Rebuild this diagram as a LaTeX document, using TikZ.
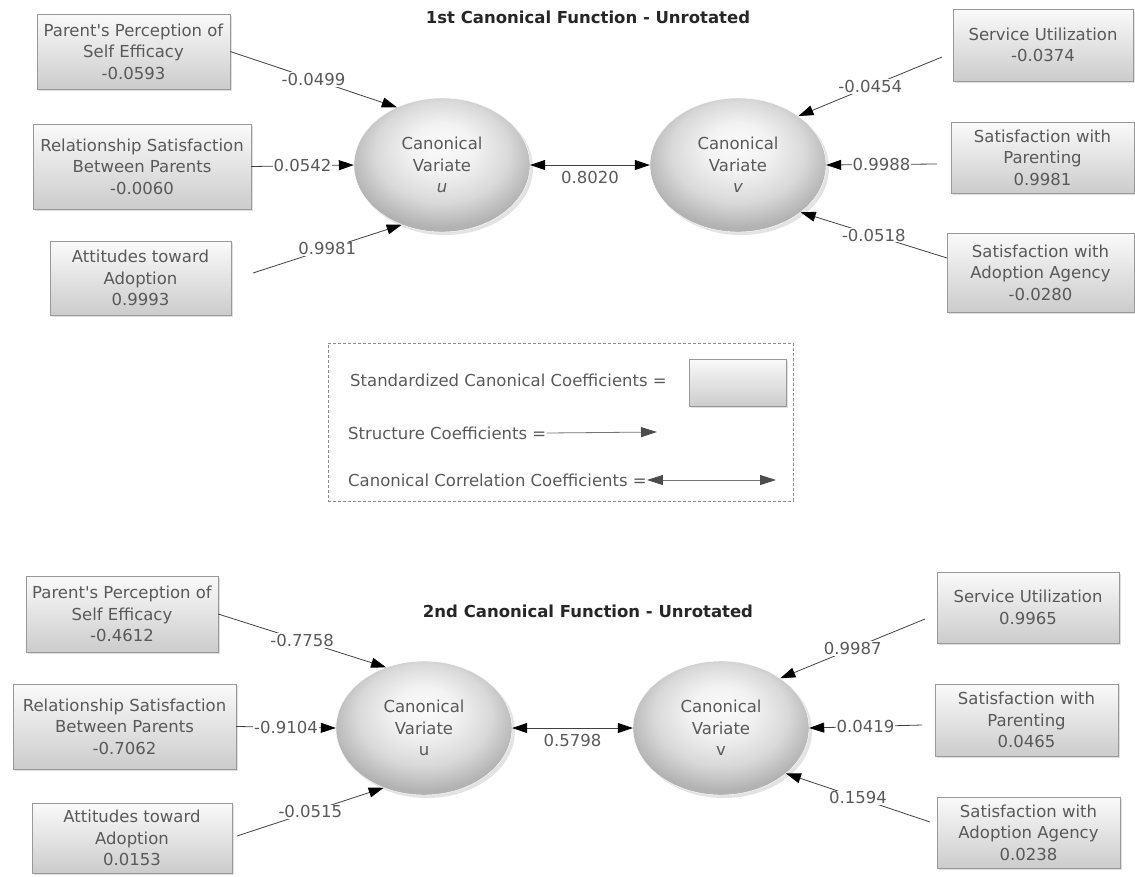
\documentclass[tikz,border=0pt]{standalone}
\usepackage{fontspec}
\setmainfont{DejaVu Sans}
\usetikzlibrary{arrows.meta,shapes.geometric,shadows}
\pgfdeclareradialshading{varshade}{\pgfpoint{0bp}{8bp}}{color(0bp)=(black!2); color(9bp)=(black!5); color(19bp)=(black!15); color(27bp)=(black!30); color(50bp)=(black!40)}

\begin{document}
\begin{tikzpicture}[x=1pt, y=-1pt, >={Triangle[length=15pt,width=10pt,color=black]},
  every node/.style={font=\fontsize{16.5}{21.5}\selectfont, text=black!65, align=center},
  title/.style={font=\bfseries\fontsize{16.5}{20}\selectfont, text=black!85},
  box/.style={draw=black!40, top color=black!2, bottom color=black!20, inner sep=1pt,
    drop shadow={shadow xshift=2pt, shadow yshift=-2pt, opacity=.25}},
  var/.style={ellipse, draw=white, shading=varshade, inner sep=0pt,
    minimum width=176, minimum height=134,
    drop shadow={shadow xshift=3pt, shadow yshift=-3pt, opacity=.22}},
  con/.style={->, draw=black!75, line width=.8pt},
  cor/.style={<->, draw=black!75, line width=.8pt},
  val/.style={fill=white, inner sep=1pt}]
\useasboundingbox (0,0) rectangle (1135,876);

% 1st function
\node[title] (t1) at (588,17) {1st Canonical Function - Unrotated};
\node[box, minimum width=193, minimum height=75] (a1) at (133.5,51.5) {Parent\textquotesingle s Perception of\\Self Efficacy\\-0.0593};
\node[box, minimum width=218, minimum height=85] (a2) at (142,166.5) {Relationship Satisfaction\\Between Parents\\-0.0060};
\node[box, minimum width=181, minimum height=74] (a3) at (140.5,278) {Attitudes toward\\Adoption\\0.9993};
\node[var] (u1) at (442,165) {Canonical\\Variate\\\textit{u}};
\node[var] (v1) at (738,165) {Canonical\\Variate\\\textit{v}};
\node[box, minimum width=180, minimum height=72] (b1) at (1043,45) {Service Utilization\\-0.0374};
\node[box, minimum width=183, minimum height=71] (b2) at (1042.5,157.5) {Satisfaction with\\Parenting\\0.9981};
\node[box, minimum width=187, minimum height=79] (b3) at (1040.5,272.5) {Satisfaction with\\Adoption Agency\\-0.0280};
\coordinate (s3) at (253,273);
\coordinate (r1) at (942,57);
\coordinate (r2) at (937,164);
\coordinate (r3) at (947,258);
\draw[con] (a1.east) -- node[val] {-0.0499} (u1.128);
\draw[con] (a2.east) -- node[val] {0.0542} (u1.west);
\draw[con] (s3) -- node[val] {0.9981} (u1.236);
\draw[con] (r1) -- node[val] {-0.0454} (v1.39);
\draw[con] (r2) -- node[val] {0.9988} (v1.east);
\draw[con] (r3) -- node[val] {-0.0518} (v1.-37);
\draw[cor] (u1.east) -- node[below=3pt] {0.8020} (v1.west);

% legend
\node[draw=black!45, densely dashed, minimum width=465, minimum height=158] (leg) at (560.5,422) {};
\node[anchor=west, inner sep=0pt] (l1) at (350,380) {Standardized Canonical Coefficients =};
\node[box, minimum width=97, minimum height=47] (lb) at (737.5,382.5) {};
\node[anchor=west, inner sep=0pt] (l2) at (348,433) {Structure Coefficients =};
\node[anchor=west, inner sep=0pt] (l3) at (348,480) {Canonical Correlation Coefficients =};
\coordinate (e2) at (657,432);
\coordinate (e3) at (776,480);
\draw[con, draw=black!55, >={Triangle[length=16pt,width=10pt,color=black!70]}] (l2.east) -- (e2);
\draw[cor, draw=black!55, >={Triangle[length=16pt,width=10pt,color=black!70]}] (l3.east) -- (e3);

% 2nd function
\node[title] (t2) at (588,611) {2nd Canonical Function - Unrotated};
\node[box, minimum width=192, minimum height=76] (c1) at (122,614) {Parent\textquotesingle s Perception of\\Self Efficacy\\-0.4612};
\node[box, minimum width=223, minimum height=85] (c2) at (124.5,726.5) {Relationship Satisfaction\\Between Parents\\-0.7062};
\node[box, minimum width=200, minimum height=70] (c3) at (132,838) {Attitudes toward\\Adoption\\0.0153};
\node[var] (u2) at (424,728) {Canonical\\Variate\\u};
\node[var] (v2) at (721,728) {Canonical\\Variate\\v};
\node[box, minimum width=182, minimum height=71] (d1) at (1028,607.5) {Service Utilization\\0.9965};
\node[box, minimum width=183, minimum height=72] (d2) at (1026.5,720) {Satisfaction with\\Parenting\\0.0465};
\node[box, minimum width=183, minimum height=71] (d3) at (1028.5,832.5) {Satisfaction with\\Adoption Agency\\0.0238};
\coordinate (s6) at (237,836);
\coordinate (r4) at (925,619);
\coordinate (r5) at (922,725);
\coordinate (r6) at (930,822);
\draw[con] (c1.east) -- node[val] {-0.7758} (u2.122);
\draw[con] (c2.east) -- node[val] {-0.9104} (u2.west);
\draw[con] (s6) -- node[val] {-0.0515} (u2.236);
\draw[con] (r4) -- node[val] {0.9987} (v2.40);
\draw[con] (r5) -- node[val] {0.0419} (v2.east);
\draw[con] (r6) -- node[val] {0.1594} (v2.-35);
\draw[cor] (u2.east) -- node[below=3pt] {0.5798} (v2.west);
\end{tikzpicture}
\end{document}
